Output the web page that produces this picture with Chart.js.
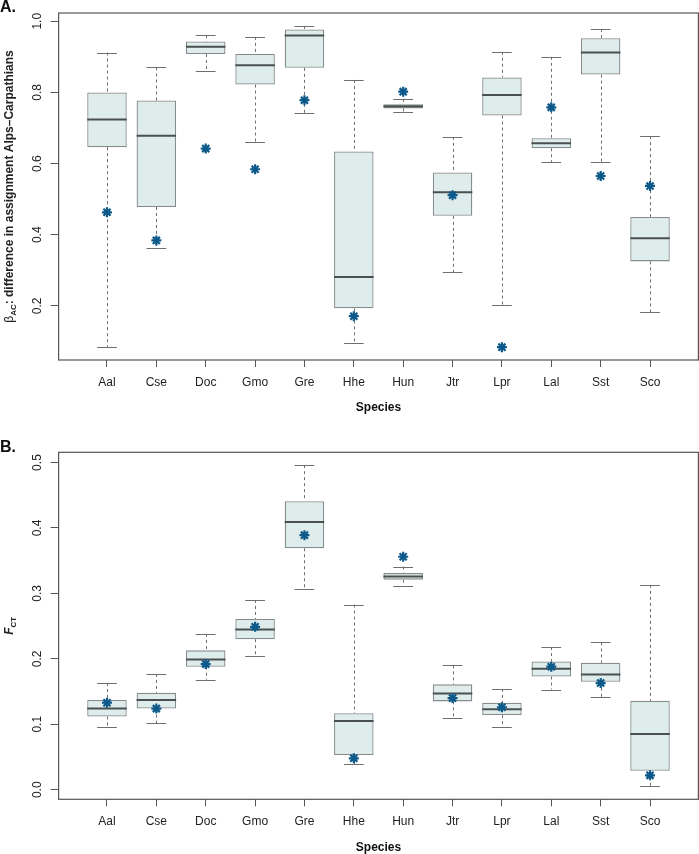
<!DOCTYPE html>
<html><head><meta charset="utf-8">
<script src="https://cdn.jsdelivr.net/npm/chart.js@4/dist/chart.umd.min.js"></script>
<style>
body{margin:0;background:#fff;width:699px;height:854px;overflow:hidden;position:relative}
canvas{position:absolute;left:0}
</style>
</head><body>
<canvas id="chartA" width="699" height="427" style="top:0px"></canvas>
<canvas id="chartB" width="699" height="427" style="top:427px"></canvas>
<script>
// ---------- data ----------
const species = ['Aal','Cse','Doc','Gmo','Gre','Hhe','Hun','Jtr','Lpr','Lal','Sst','Sco'];

// Panel A: beta_AC
const betaMin      = [0.085,0.363,0.859,0.660,0.742,0.095,0.746,0.295,0.202,0.603,0.604,0.182];
const betaQ1       = [0.646,0.478,0.908,0.822,0.869,0.193,0.755,0.453,0.735,0.643,0.850,0.325];
const betaMedian   = [0.724,0.678,0.928,0.876,0.960,0.281,0.761,0.519,0.793,0.657,0.912,0.390];
const betaQ3       = [0.800,0.777,0.943,0.908,0.977,0.634,0.767,0.575,0.842,0.671,0.952,0.450];
const betaMax      = [0.912,0.870,0.961,0.956,0.987,0.835,0.782,0.675,0.914,0.900,0.978,0.677];
const betaObserved = [0.463,0.384,0.642,0.584,0.778,0.171,0.802,0.511,0.084,0.758,0.565,0.537];
const betaTicks    = [0.2,0.4,0.6,0.8,1.0];

// Panel B: F_CT
const fctMin      = [0.096,0.102,0.168,0.205,0.306,0.039,0.312,0.109,0.096,0.153,0.142,0.005];
const fctQ1       = [0.112,0.124,0.188,0.230,0.369,0.053,0.321,0.135,0.114,0.173,0.165,0.029];
const fctMedian   = [0.124,0.137,0.199,0.245,0.409,0.105,0.326,0.147,0.123,0.185,0.176,0.085];
const fctQ3       = [0.137,0.148,0.213,0.261,0.441,0.117,0.331,0.161,0.133,0.196,0.194,0.136];
const fctMax      = [0.163,0.177,0.238,0.290,0.496,0.283,0.341,0.190,0.154,0.218,0.225,0.313];
const fctObserved = [0.133,0.124,0.192,0.249,0.389,0.048,0.356,0.140,0.126,0.188,0.163,0.022];
const fctTicks    = [0.0,0.1,0.2,0.3,0.4,0.5];

// ---------- style ----------
const FONT = "'Liberation Sans', Arial, Helvetica, sans-serif";
const BOX_FILL = '#dfecec';
const BOX_EDGE = '#858c8c';
const MEDIAN = '#4a4f4f';
const WHISK = '#6e6e6e';
const AXIS = '#555555';
const STAR = '#0d5a8a';

function rRange(arrs){
  const all = [].concat(...arrs);
  const lo = Math.min(...all), hi = Math.max(...all);
  const p = (hi - lo) * 0.04;
  return [lo - p, hi + p];
}

function drawRuns(ctx, runs, x, y, rotate, align){
  ctx.save();
  ctx.translate(x, y);
  if (rotate) ctx.rotate(-Math.PI/2);
  let total = 0;
  runs.forEach(r => { ctx.font = r.font; r.w = ctx.measureText(r.text).width; total += r.w; });
  let cx = align === 'center' ? -total/2 : 0;
  ctx.textBaseline = 'alphabetic';
  ctx.textAlign = 'left';
  runs.forEach(r => { ctx.font = r.font; ctx.fillText(r.text, cx, r.dy || 0); cx += r.w; });
  ctx.restore();
}

function makeChart(id, st, cfg){
  const [ymin, ymax] = rRange([st.min, st.max, st.obs]);
  const boxPlugin = {
    id: 'boxExtras',
    beforeDatasetsDraw(chart){
      const ctx = chart.ctx, x = chart.scales.x, y = chart.scales.y;
      ctx.save();
      ctx.strokeStyle = WHISK; ctx.lineWidth = 1;
      st.min.forEach((_, i) => {
        const xp = Math.round(x.getPixelForValue(i+1)) + 0.5;
        ctx.setLineDash([3,3]);
        ctx.beginPath();
        ctx.moveTo(xp, y.getPixelForValue(st.max[i])); ctx.lineTo(xp, y.getPixelForValue(st.q3[i]));
        ctx.moveTo(xp, y.getPixelForValue(st.q1[i])); ctx.lineTo(xp, y.getPixelForValue(st.min[i]));
        ctx.stroke();
        ctx.setLineDash([]);
        ctx.beginPath();
        const xl = x.getPixelForValue(i+1-0.2), xr = x.getPixelForValue(i+1+0.2);
        [st.max[i], st.min[i]].forEach(v => {
          const yp = Math.round(y.getPixelForValue(v)) + 0.5;
          ctx.moveTo(xl, yp); ctx.lineTo(xr, yp);
        });
        ctx.stroke();
      });
      ctx.restore();
    },
    afterDatasetDraw(chart, args){
      if (args.index !== 0) return;
      const ctx = chart.ctx, x = chart.scales.x, y = chart.scales.y;
      ctx.save();
      ctx.strokeStyle = MEDIAN; ctx.lineWidth = 2;
      st.med.forEach((v, i) => {
        const yp = y.getPixelForValue(v);
        ctx.beginPath();
        ctx.moveTo(x.getPixelForValue(i+1-0.4), yp);
        ctx.lineTo(x.getPixelForValue(i+1+0.4), yp);
        ctx.stroke();
      });
      ctx.restore();
    },
    afterDraw(chart){
      const ctx = chart.ctx, a = chart.chartArea, y = chart.scales.y;
      ctx.save();
      ctx.strokeStyle = AXIS; ctx.lineWidth = 1.2;
      ctx.strokeRect(a.left, a.top, a.right - a.left, a.bottom - a.top);
      ctx.fillStyle = '#222';
      y.ticks.forEach(t => {
        drawRuns(ctx, [{text: t.value.toFixed(1), font: '12px ' + FONT}], 41, y.getPixelForValue(t.value), true, 'center');
      });
      drawRuns(ctx, cfg.yTitle, 13, (a.top + a.bottom)/2, true, 'center');
      ctx.fillStyle = '#111';
      drawRuns(ctx, [{text: 'Species', font: 'bold 12px ' + FONT}], (a.left + a.right)/2, cfg.xTitleY, false, 'center');
      drawRuns(ctx, [{text: cfg.letter, font: 'bold 16px ' + FONT}], 0, cfg.letterY, false, 'left');
      ctx.restore();
    }
  };

  return new Chart(document.getElementById(id), {
    type: 'bar',
    data: {
      datasets: [
        {
          type: 'bar',
          data: species.map((s, i) => ({x: i+1, y: [st.q1[i], st.q3[i]]})),
          backgroundColor: BOX_FILL,
          borderColor: BOX_EDGE,
          borderWidth: 1.3,
          borderSkipped: false,
          categoryPercentage: 0.8,
          barPercentage: 1,
          order: 2
        },
        {
          type: 'scatter',
          data: species.map((s, i) => ({x: i+1, y: st.obs[i]})),
          pointStyle: 'star',
          pointRadius: 5,
          pointBorderWidth: 2.2,
          borderColor: STAR,
          backgroundColor: STAR,
          order: 0
        }
      ]
    },
    options: {
      responsive: false,
      animation: false,
      devicePixelRatio: 1,
      layout: {autoPadding: false, padding: {top: cfg.top, right: 0.6, left: 0, bottom: 0}},
      plugins: {legend: {display: false}, tooltip: {enabled: false}},
      scales: {
        x: {
          type: 'linear',
          offset: false,
          min: 0.02, max: 12.98,
          afterBuildTicks: s => { s.ticks = species.map((_, i) => ({value: i+1})); },
          afterFit: s => { s.height = cfg.xHeight; s.paddingLeft = 0; s.paddingRight = 0; },
          grid: {offset: false, drawOnChartArea: false, drawTicks: true, tickLength: 7, color: AXIS, lineWidth: 1},
          border: {display: false},
          ticks: {
            autoSkip: false, maxRotation: 0, minRotation: 0, padding: 8,
            color: '#222', font: {family: FONT, size: 12},
            callback: v => species[Math.round(v) - 1]
          }
        },
        y: {
          type: 'linear',
          min: ymin, max: ymax,
          afterBuildTicks: s => { s.ticks = cfg.ticks.map(v => ({value: v})); },
          afterFit: s => { s.width = 58.6; },
          grid: {drawOnChartArea: false, drawTicks: true, tickLength: 8, color: AXIS, lineWidth: 1},
          border: {display: false},
          ticks: {display: false}
        }
      }
    },
    plugins: [boxPlugin]
  });
}

makeChart('chartA',
  {min: betaMin, q1: betaQ1, med: betaMedian, q3: betaQ3, max: betaMax, obs: betaObserved},
  {
    top: 13, xHeight: 67, ticks: betaTicks, xTitleY: 411, letter: 'A.', letterY: 12,
    yTitle: [
      {text: 'β', font: '12px ' + FONT},
      {text: 'AC', font: 'bold 8px ' + FONT, dy: 3},
      {text: ': difference in assignment Alps\u2013Carpathians', font: 'bold 12px ' + FONT}
    ]
  });

makeChart('chartB',
  {min: fctMin, q1: fctQ1, med: fctMedian, q3: fctQ3, max: fctMax, obs: fctObserved},
  {
    top: 25.3, xHeight: 54.7, ticks: fctTicks, xTitleY: 424, letter: 'B.', letterY: 25,
    yTitle: [
      {text: 'F', font: 'italic bold 12px ' + FONT},
      {text: 'CT', font: 'bold 8px ' + FONT, dy: 3}
    ]
  });
</script>
</body></html>
